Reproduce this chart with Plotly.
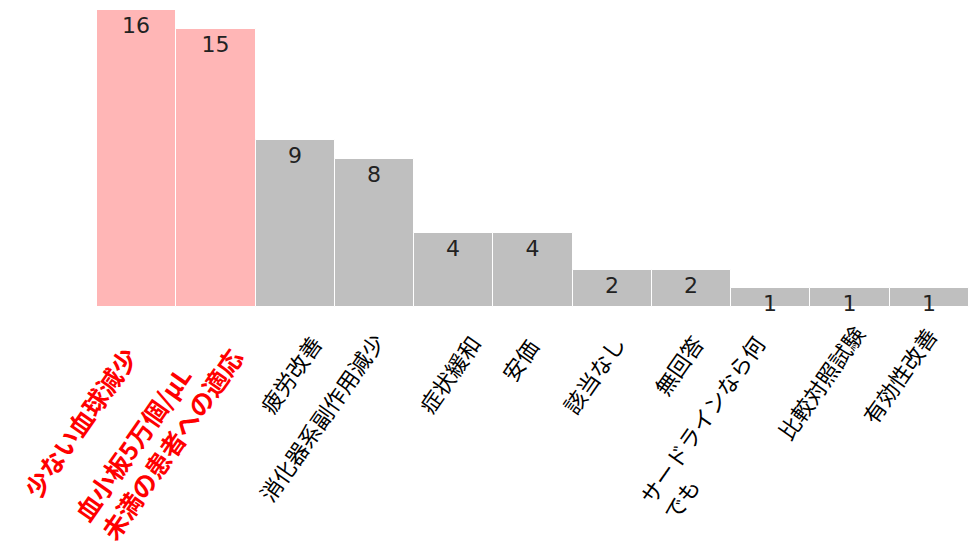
import plotly.graph_objects as go

# Survey answers and their counts
categories = [
    "少ない血球減少",
    "血小板5万個/μL<br>未満の患者への適応",
    "疲労改善",
    "消化器系副作用減少",
    "症状緩和",
    "安価",
    "該当なし",
    "無回答",
    "サードラインなら何<br>でも",
    "比較対照試験",
    "有効性改善",
]
counts = [16, 15, 9, 8, 4, 4, 2, 2, 1, 1, 1]
highlighted = [True, True, False, False, False, False, False, False, False, False, False]

PINK = "#ffb6b6"
GRAY = "#bfbfbf"
LABEL_FONT = "Noto Sans CJK JP"

# Pixel nudges (right, up) applied to each rotated category label
label_nudges = [
    (11, -30), (38, -13), (36, -19), (19, -17), (36, -19), (15, -22),
    (22, -19), (21, -19), (27, -19), (24, -9), (17, -11),
]

bar_colors = [PINK if h else GRAY for h in highlighted]
xs = list(range(len(categories)))

fig = go.Figure(
    go.Bar(
        x=xs,
        y=counts,
        marker=dict(color=bar_colors, line=dict(color="white", width=1)),
        text=[str(v) for v in counts],
        textposition="inside",
        insidetextanchor="end",
        constraintext="none",
        textangle=0,
        textfont=dict(family="DejaVu Sans", size=22, color="#222222"),
        cliponaxis=False,
    )
)

# Category labels: rotated, left-aligned when wrapped, red/bold for highlighted answers
for x, label, hl, (dx, dy) in zip(xs, categories, highlighted, label_nudges):
    if hl:
        text = f"<b>{label}</b>"
        font = dict(family=LABEL_FONT, size=25, color="#ff0000")
    else:
        text = label
        font = dict(family=LABEL_FONT, size=22, color="black")
    fig.add_annotation(
        x=x,
        y=0,
        xref="x",
        yref="y",
        text=text,
        showarrow=False,
        textangle=-55,
        xanchor="right",
        yanchor="top",
        align="left",
        xshift=dx,
        yshift=dy,
        font=font,
    )

fig.update_layout(
    width=971,
    height=545,
    margin=dict(l=97, r=2, t=10, b=238),
    paper_bgcolor="white",
    plot_bgcolor="white",
    bargap=0,
    showlegend=False,
    xaxis=dict(
        tickmode="array",
        tickvals=xs,
        showticklabels=False,
        showgrid=False,
        zeroline=False,
        showline=False,
        ticks="",
        range=[-0.5, len(categories) - 0.5],
    ),
    yaxis=dict(
        range=[0, 16],
        visible=False,
        showgrid=False,
        zeroline=False,
    ),
)

fig.write_html("out.html")
